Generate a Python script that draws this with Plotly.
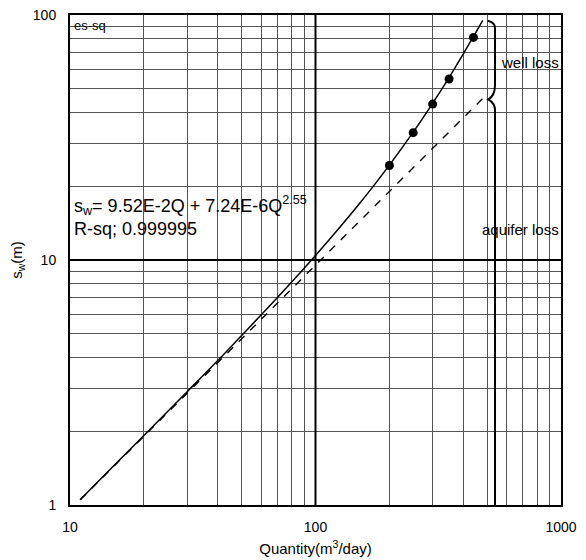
import plotly.graph_objects as go

# ---- data ----
# measured drawdown points
q_obs = [200, 250, 300, 350, 440]
s_obs = [24.3, 33.1, 43.3, 54.8, 81.0]

# fitted total drawdown curve (aquifer loss + well loss)
q_fit = [11, 15, 20, 30, 40, 50, 70, 100, 150, 200, 250, 300, 350, 400, 440, 480]
s_fit = [1.05, 1.44, 1.92, 2.90, 3.89, 4.92, 7.03, 10.43, 16.84, 24.4, 33.25, 43.6, 55.5, 69.4, 81.7, 95.0]

# aquifer loss (linear term) line
q_aq = [11, 50, 100, 200, 300, 400, 493]
s_aq = [1.05, 4.76, 9.52, 19.04, 28.56, 38.08, 46.9]

x_ticks = [10, 20, 30, 40, 50, 60, 70, 80, 90, 100, 200, 300, 400, 500, 600, 700, 800, 900, 1000]
x_tick_labels = ["10", "", "", "", "", "", "", "", "", "100", "", "", "", "", "", "", "", "", "1000"]
y_ticks = [1, 2, 3, 4, 5, 6, 7, 8, 9, 10, 20, 30, 40, 50, 60, 70, 80, 90, 100]
y_tick_labels = ["1", "", "", "", "", "", "", "", "", "10", "", "", "", "", "", "", "", "", "100"]

FONT = "Arial, Liberation Sans, Helvetica, sans-serif"

fig = go.Figure()

fig.add_trace(go.Scatter(x=q_aq, y=s_aq, mode="lines",
                         line=dict(color="black", width=1.4, dash="8px,8px"),
                         showlegend=False, hoverinfo="skip"))
fig.add_trace(go.Scatter(x=q_fit, y=s_fit, mode="lines", line_shape="spline",
                         line=dict(color="black", width=1.5),
                         showlegend=False))
fig.add_trace(go.Scatter(x=q_obs, y=s_obs, mode="markers",
                         marker=dict(color="black", size=9),
                         showlegend=False))

grid_col = "#555555"
fig.update_xaxes(type="log", range=[1, 3], tickvals=x_ticks, ticktext=x_tick_labels,
                 showgrid=True, gridcolor=grid_col, gridwidth=1, ticks="",
                 showline=True, linecolor="black", linewidth=2, mirror=True,
                 zeroline=False, ticklabelstandoff=8, automargin=False,
                 ticklabeloverflow="allow",
                 tickfont=dict(family=FONT, size=14, color="black"),
                 title=dict(text="Quantity(m<sup>3</sup>/day)", standoff=10,
                            font=dict(family=FONT, size=15, color="black")))
fig.update_yaxes(type="log", range=[0, 2], tickvals=y_ticks, ticktext=y_tick_labels,
                 showgrid=True, gridcolor=grid_col, gridwidth=1, ticks="",
                 showline=True, linecolor="black", linewidth=2, mirror=True,
                 zeroline=False, ticklabelstandoff=9, automargin=False,
                 ticklabeloverflow="allow",
                 tickfont=dict(family=FONT, size=14, color="black"),
                 title=dict(text="s<sub>w</sub>(m)", standoff=14,
                            font=dict(family=FONT, size=15, color="black")))

shapes = [
    # heavier decade grid lines
    dict(type="line", xref="x domain", yref="y domain", x0=0.5, x1=0.5, y0=0, y1=1,
         line=dict(color="black", width=2), layer="above"),
    dict(type="line", xref="x domain", yref="y domain", x0=0, x1=1, y0=0.5, y1=0.5,
         line=dict(color="black", width=2), layer="above"),
    # brace separating well loss and aquifer loss
    dict(type="path", xref="x domain", yref="y domain",
         path="M 0.8507 0.9884 Q 0.8656 0.985 0.8656 0.9735 L 0.8656 0.8571 "
              "Q 0.8656 0.835 0.8519 0.828 Q 0.8656 0.82 0.8656 0.8061 L 0.8656 0",
         line=dict(color="black", width=2)),
]

annotations = [
    dict(text="es-sq", xref="x domain", yref="y domain", x=0.004, y=0.997,
         xanchor="left", yanchor="top", showarrow=False,
         font=dict(family=FONT, size=13, color="black")),
    dict(text="s<sub>w</sub>= 9.52E-2Q + 7.24E-6Q<sup>2.55</sup>", xref="x domain", yref="y domain",
         x=0.004, y=0.612, xanchor="left", yanchor="middle", showarrow=False,
         font=dict(family=FONT, size=18, color="black")),
    dict(text="R-sq; 0.999995", xref="x domain", yref="y domain",
         x=0.004, y=0.563, xanchor="left", yanchor="middle", showarrow=False,
         font=dict(family=FONT, size=18, color="black")),
    dict(text="well loss", xref="x domain", yref="y domain",
         x=0.999, y=0.904, xanchor="right", yanchor="middle", showarrow=False,
         font=dict(family=FONT, size=15, color="black")),
    dict(text="aquifer loss", xref="x domain", yref="y domain",
         x=1.0, y=0.563, xanchor="right", yanchor="middle", showarrow=False,
         font=dict(family=FONT, size=15, color="black")),
]

# the page's default 8px body margin offsets the figure, so size it to fit the window
fig.update_layout(width=578, height=552,
                  margin=dict(l=62, r=25, t=7, b=55),
                  paper_bgcolor="white", plot_bgcolor="white",
                  shapes=shapes, annotations=annotations,
                  font=dict(family=FONT, color="black"))

fig.write_html("out.html")
